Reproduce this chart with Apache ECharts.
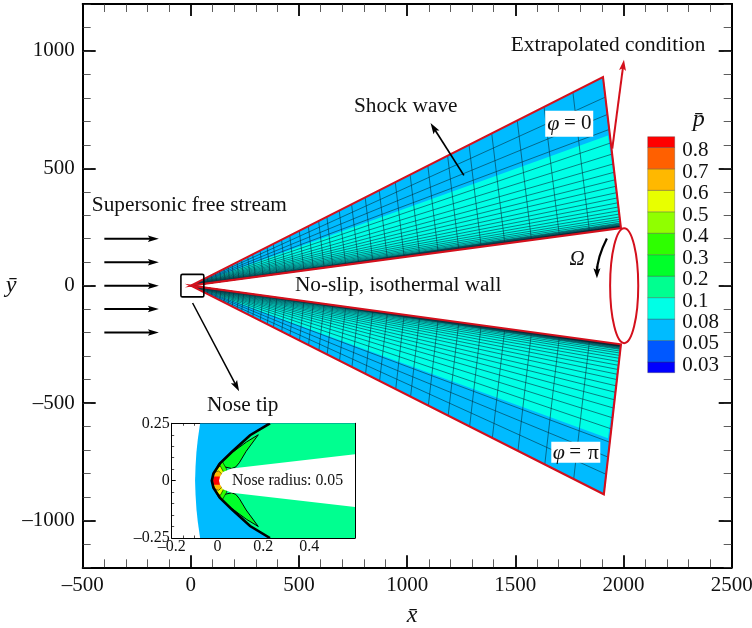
<!DOCTYPE html>
<html><head><meta charset="utf-8">
<style>html,body{margin:0;padding:0;background:#fff}#c{width:752px;height:628px}</style>
<script src="https://cdn.jsdelivr.net/npm/echarts@6/dist/echarts.min.js"></script>
</head><body><div id="c"></div>
<script>
// ---------- values ----------
const levelLabels = ['0.03','0.05','0.08','0.1','0.2','0.3','0.4','0.5','0.6','0.7','0.8'];
const levelColors = ['#0000ff','#0058ff','#00bbff','#00ffe6','#00ff90','#00ff2a','#2eff00','#90ff00','#e8ff00','#ffb800','#ff6000','#ff0000'];
const xTicks = [-500,0,500,1000,1500,2000,2500];
const yMajor = [-1000,-500,0,500,1000];
const upperOuter = [1905,889];
const upperWall  = [1988,245];
const upperBand  = [1928,640];
const lowerOuter = [1909,-889];
const lowerWall  = [1988,-250];
const lowerBand  = [1928,-650];
const stations = [1,.927,.857,.792,.730,.675,.623,.575,.532,.496,.457,.423,.39,.36,.33,.31,.285,.263,.24,.22,.2,.185,.168,.15,.138,.123,.112,.1,.09,.08,.07,.06,.05,.04,.03,.02];
const layers = [.867,.752,.653,.564,.49,.425,.37,.32,.277,.235,.2,.168,.14,.115,.093,.074,.058,.045,.034,.029,.025,.021,.018,.015,.012,.009,.007,.005,.003];
const freeStreamY = [200,100,0,-100,-200];
// inset, half contours (mirrored about y = 0)
const insetArc = [[-.076,.25],[-.086,.18],[-.092,.125],[-.096,.06],[-.098,0]];
const insetShock = [[.229,.25],[.142,.198],[.062,.125],[.011,.075],[-.018,.031],[-.025,0]];
const insetBody = [[.6,.115],[.062,.053],[.023,.038],[.011,.017],[.0065,0]];
const crescent = [[.178,.2],[.127,.169],[.062,.121],[.018,.08],[.03,.06],[.062,.053],[.08,.06],[.095,.078],[.125,.128]];
const limeBlob = [[.04,.05],[.02,.085],[.005,.075],[-.014,.032],[-.02,0]];
const yellowBlob = [[.025,.04],[.012,.064],[-.004,.058],[-.016,.028],[-.02,0]];
const orangeBlob = [[.018,.03],[.005,.042],[-.01,.038],[-.018,.02],[-.02,0]];
const redBlob = [[.01,.018],[-.015,.018],[-.02,0]];
// annotations, in axis units
const arrows = {shock:[[1262,470],[1108,693]], extrap:[[1948,584],[2002,963]], box:[[8,-74],[223,-450]]};
const noseBox = [[-46,48],[60,-48]];
const omegaCurve = [[1923,201],[1878,120],[1877,31]];
const ellipse = {c:[2003,0], rx:65, ry:245};

// ---------- helpers ----------
const SERIF = '"Liberation Serif","Times New Roman",serif';
const RED = '#d4101c';
const LABEL_SHIFT = 0.16;
const mirror = pts => pts.concat(pts.slice(0,-1).reverse().map(p=>[p[0],-p[1]]));
const custom = (name, g, fn, z, clip) => ({
  type:'custom', name, coordinateSystem:'cartesian2d', xAxisIndex:g.x, yAxisIndex:g.y,
  data:[[0,0]], silent:true, z:z||2, clip:!!clip,
  renderItem:(p,api)=>({type:'group',children:fn(c=>api.coord(c),api)})
});
const poly = (pts,fill,stroke,lw)=>({type:'polygon',shape:{points:pts},style:{fill:fill||'none',stroke:stroke||'none',lineWidth:lw||0}});
const line = (pts,stroke,lw)=>({type:'polyline',shape:{points:pts},style:{fill:'none',stroke,lineWidth:lw}});
function arrow(a,b,color,lw,hl,hw){
  const dx=b[0]-a[0],dy=b[1]-a[1],d=Math.hypot(dx,dy),ux=dx/d,uy=dy/d;
  const bx=b[0]-ux*hl,by=b[1]-uy*hl;
  return [line([a,[b[0]-ux*hl*.7,b[1]-uy*hl*.7]],color,lw),
    poly([b,[bx-uy*hw/2,by+ux*hw/2],[b[0]-ux*hl*.8,b[1]-uy*hl*.8],[bx+uy*hw/2,by-ux*hw/2]],color)];
}
const txt=(c,t,size,opts)=>({type:'text',x:c[0],y:c[1],style:Object.assign({text:t,fill:'#111',font:size+'px '+SERIF,align:'left',verticalAlign:'middle'},opts||{})});

function wedge(outer,wall,band){
  const P=(t,e)=>[t*(wall[0]+e*(outer[0]-wall[0])),t*(wall[1]+e*(outer[1]-wall[1]))];
  return c=>{
    const o=[0,0];
    const kids=[];
    kids.push(poly([o,outer,wall].map(c),levelColors[2]));
    kids.push(poly([o,band,wall].map(c),levelColors[3]));
    kids.push(poly([o,P(1,.016),wall].map(c),'#000'));
    layers.forEach(e=>kids.push(line([o,P(1,e)].map(c),'#063040',.6)));
    stations.forEach(t=>kids.push(line([P(t,0),P(t,1)].map(c),'#063040',.6)));
    kids.push(poly([o,outer,wall].map(c),'none',RED,2.1));
    return kids;
  };
}

const gMain={x:0,y:0}, gIn={x:2,y:4}, gBar={x:4,y:8};

const annotation = c=>{
  let k=[];
  freeStreamY.forEach(y=>{k=k.concat(arrow(c([-400,y]),c([-148,y]),'#000',2,11,6.5));});
  k=k.concat(arrow(c(arrows.shock[0]),c(arrows.shock[1]),'#000',1.7,11,7));
  k=k.concat(arrow(c(arrows.box[0]),c(arrows.box[1]),'#000',1.5,11,7));
  k=k.concat(arrow(c(arrows.extrap[0]),c(arrows.extrap[1]),RED,2,11,7));
  const a=c(noseBox[0]),b=c(noseBox[1]);
  k.push({type:'rect',shape:{x:a[0],y:a[1],width:b[0]-a[0],height:b[1]-a[1],r:1.5},style:{fill:'none',stroke:'#000',lineWidth:1.6}});
  const e=c(ellipse.c),ex=c([ellipse.c[0]+ellipse.rx,ellipse.c[1]+ellipse.ry]);
  k.push({type:'ellipse',shape:{cx:e[0],cy:e[1],rx:ex[0]-e[0],ry:e[1]-ex[1]},style:{fill:'none',stroke:RED,lineWidth:2}});
  const [w0,w1,w2]=omegaCurve.map(c);
  k.push({type:'bezierCurve',shape:{x1:w0[0],y1:w0[1],x2:w2[0],y2:w2[1]-6,cpx1:w1[0],cpy1:w1[1]},style:{fill:'none',stroke:'#000',lineWidth:2.2}});
  k=k.concat(arrow([w2[0],w2[1]-12],w2,'#000',2,10,7));
  k.push(txt(c([-458,342]),'Supersonic free stream',21.3));
  k.push(txt(c([754,764]),'Shock wave',21.3));
  k.push(txt(c([1479,1024]),'Extrapolated condition',21.3));
  k.push(txt(c([481,0]),'No-slip, isothermal wall',21.3));
  k.push(txt(c([74,-510]),'Nose tip',21.3));
  k.push(txt(c([1785,112]),'Ω',21,{font:'italic 21px '+SERIF,align:'center'}));
  const rectA=c([1638,745]);
  k.push({type:'rect',shape:{x:rectA[0],y:rectA[1],width:48,height:26},style:{fill:'#fff'}});
  k.push(txt([rectA[0]+2,rectA[1]+13],'φ',22,{font:'italic 22px '+SERIF}));
  k.push(txt([rectA[0]+18.7,rectA[1]+13],'= 0',21));
  const rectB=c([1666,-665]);
  k.push({type:'rect',shape:{x:rectB[0],y:rectB[1],width:49,height:21},style:{fill:'#fff'}});
  k.push(txt([rectB[0]+1.5,rectB[1]+11],'φ',22,{font:'italic 22px '+SERIF}));
  k.push(txt([rectB[0]+18,rectB[1]+11],'=',21));
  k.push(txt([rectB[0]+36.5,rectB[1]+11],'π',22));
  return k;
};

const inset = c=>{
  const m=p=>mirror(p).map(c);
  const k=[];
  k.push(poly(mirror(insetArc).concat([[.6,-.25],[.6,.25]]).map(c),levelColors[2]));
  k.push(poly(mirror(insetShock).concat([[.6,-.25],[.6,.25]]).map(c),levelColors[4]));
  const halves=[crescent, crescent.map(p=>[p[0],-p[1]])];
  halves.forEach(h=>k.push(poly(h.map(c),levelColors[5],'#000',1)));
  k.push(poly(m(limeBlob),levelColors[6],'#000',.6));
  k.push(poly(m(yellowBlob),levelColors[8],'#000',.6));
  k.push(poly(m(orangeBlob),levelColors[9],'#000',.5));
  k.push(poly(m(redBlob),levelColors[11]));
  k.push(poly(mirror(insetBody).map(c),'#fff'));
  k.push(line(m(insetShock),'#000',2.6));
  return k;
};
const insetText = c=>[txt(c([.0635,0]),'Nose radius: 0.05',15.8)];

const colorbar = c=>levelColors.map((col,i)=>{
  const lo=i===0?-.5:i-1, hi=i===11?10.5:i;
  const a=c([0,hi]),b=c([1,lo]);
  return {type:'rect',shape:{x:a[0],y:a[1],width:b[0]-a[0],height:b[1]-a[1]},style:{fill:col,stroke:'rgba(60,60,60,.55)',lineWidth:.6}};
});

const dash=v=>String(v).replace('-','–');
const numF={fontFamily:SERIF,color:'#111'};
const mainXBase={type:'value',gridIndex:0,min:-500,max:2500,interval:500,splitLine:{show:false},
  axisLine:{onZero:false,lineStyle:{color:'#000',width:2}},
  axisTick:{inside:true,length:12,lineStyle:{color:'#000',width:1.8}},
  minorTick:{show:true,splitNumber:5,length:8,lineStyle:{color:'#333',width:.8}},minorSplitLine:{show:false}};
const mainYBase={type:'value',gridIndex:0,min:-1200,max:1200,interval:100,splitLine:{show:false},
  axisLine:{onZero:false,lineStyle:{color:'#000',width:2}},axisLabel:{show:false}};
const majT={inside:true,length:13,customValues:yMajor,lineStyle:{color:'#000',width:1.8}};
const minT={inside:true,length:8,lineStyle:{color:'#333',width:.8}};
const inXBase={type:'value',gridIndex:1,min:-.2,max:.6,interval:.2,splitLine:{show:false},
  axisLine:{onZero:false,lineStyle:{color:'#000',width:1}},
  axisTick:{inside:true,length:4,lineStyle:{color:'#000',width:1}},
  minorTick:{show:true,splitNumber:4,length:2.5,lineStyle:{color:'#000',width:.7}}};
const inYBase={type:'value',gridIndex:1,min:-.25,max:.25,interval:.25,splitLine:{show:false},
  axisLine:{onZero:false,lineStyle:{color:'#000',width:1}},
  axisTick:{inside:true,length:4,lineStyle:{color:'#000',width:1}},
  minorTick:{show:true,splitNumber:5,length:2.5,lineStyle:{color:'#000',width:.7}}};

const option={
  animation:false,backgroundColor:'#fff',
  grid:[
    {left:82.7,top:4,width:649,height:563.3,outerBoundsMode:'none'},
    {left:171.7,top:423.3,width:183.3,height:114.7,outerBoundsMode:'none'},
    {left:647.7,top:136.7,width:27,height:236,outerBoundsMode:'none'}
  ],
  xAxis:[
    Object.assign({},mainXBase,{position:'bottom',name:'x̄',nameLocation:'middle',nameGap:36,
      nameTextStyle:{fontFamily:SERIF,fontStyle:'italic',fontSize:24,color:'#111',padding:[0,0,0,10]},
      axisLabel:Object.assign({fontSize:21,margin:8,formatter:dash,customValues:xTicks},numF)}),
    Object.assign({},mainXBase,{position:'top',axisLabel:{show:false}}),
    Object.assign({},inXBase,{position:'bottom',axisLabel:Object.assign({fontSize:16,margin:1,formatter:v=>{const n=+v.toFixed(2);return n>=.6?'':dash(n);}},numF)}),
    Object.assign({},inXBase,{position:'top',axisLabel:{show:false}}),
    {type:'value',gridIndex:2,min:0,max:1,show:false}
  ],
  yAxis:[
    Object.assign({},mainYBase,{position:'left',axisTick:majT,name:'ȳ',nameLocation:'middle',nameRotate:0,nameGap:65,
      nameTextStyle:{fontFamily:SERIF,fontStyle:'italic',fontSize:24,color:'#111'},
      axisLabel:Object.assign({show:true,fontSize:21,margin:8,formatter:dash,customValues:yMajor},numF)}),
    Object.assign({},mainYBase,{position:'left',axisTick:minT}),
    Object.assign({},mainYBase,{position:'right',axisTick:majT}),
    Object.assign({},mainYBase,{position:'right',axisTick:minT}),
    Object.assign({},inYBase,{position:'left',axisLabel:Object.assign({fontSize:16,margin:2,formatter:v=>dash(v)},numF)}),
    Object.assign({},inYBase,{position:'right',axisLabel:{show:false}}),
    {type:'value',gridIndex:2,show:false,min:-.5,max:10.5},
    {type:'value',gridIndex:2,show:false,min:-.5,max:10.5},
    {type:'value',gridIndex:2,position:'right',min:-.5,max:10.5,name:'p̄',nameLocation:'end',nameGap:5,
      nameTextStyle:{fontFamily:SERIF,fontStyle:'italic',fontSize:24,color:'#111',align:'center',padding:[0,0,0,48]},
      splitLine:{show:false},axisLine:{show:false},axisTick:{show:false},
      axisLabel:Object.assign({fontSize:21,margin:7.5,customValues:levelLabels.map((_,i)=>i-LABEL_SHIFT),formatter:v=>levelLabels[Math.round(v+LABEL_SHIFT)]||''},numF)}
  ],
  series:[
    custom('Upper wedge',gMain,wedge(upperOuter,upperWall,upperBand),2,true),
    custom('Lower wedge',gMain,wedge(lowerOuter,lowerWall,lowerBand),2,true),
    custom('Annotations',gMain,annotation,5,false),
    custom('Inset contours',gIn,inset,2,true),
    custom('Inset text',gIn,insetText,6,false),
    custom('Colour bar',gBar,colorbar,3,false)
  ]
};
const chart=echarts.init(document.getElementById('c'));
chart.setOption(option);
</script></body></html>
